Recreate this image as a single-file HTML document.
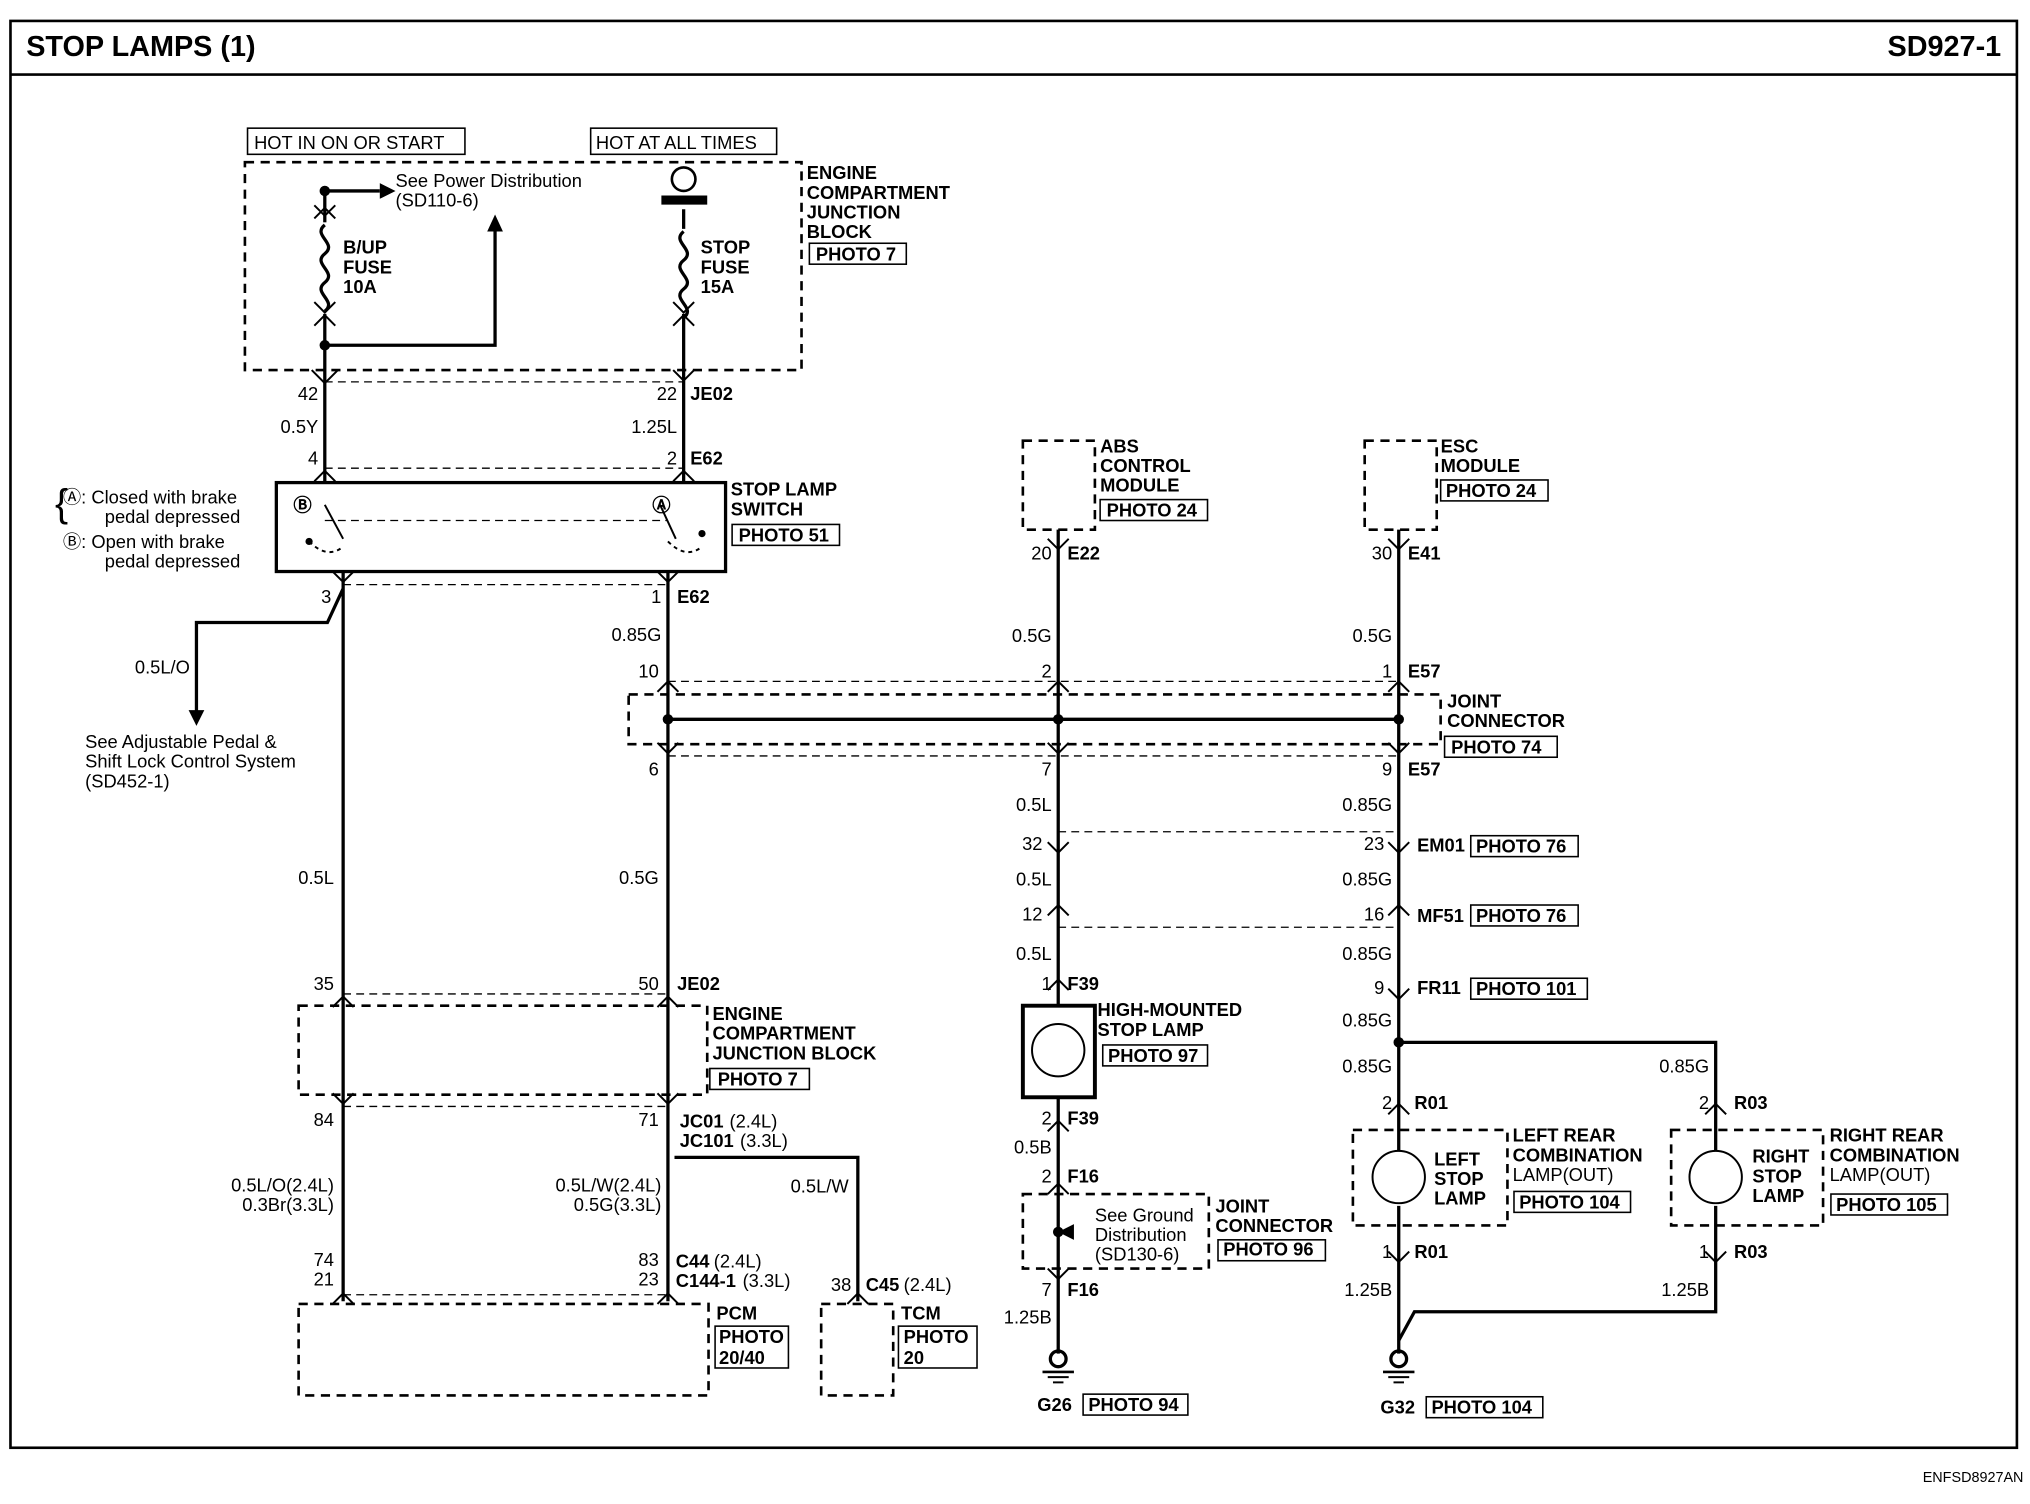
<!DOCTYPE html>
<html><head><meta charset="utf-8"><style>
html,body{margin:0;padding:0;background:#fff}
svg{display:block}
text{font-family:"Liberation Sans",Arial,sans-serif;fill:#000}
.b{font-weight:bold}
</style></head><body>
<svg width="2030" height="1504" viewBox="0 0 1550 1150" preserveAspectRatio="none" xmlns="http://www.w3.org/2000/svg">
<g fill="none" stroke="#000">
<rect x="8" y="16" width="1532" height="1091" stroke-width="2"/>
<line x1="8" y1="57" x2="1540" y2="57" stroke-width="2"/>
</g>
<text x="20" y="43" font-size="22" class="b">STOP LAMPS (1)</text>
<text x="1528" y="43" font-size="22" class="b" text-anchor="end">SD927-1</text>
<text x="1545" y="1133" font-size="11" text-anchor="end">ENFSD8927AN</text>

<!-- dashed boxes -->
<g fill="none" stroke="#000" stroke-width="2" stroke-dasharray="7,5">
<rect x="187" y="124" width="425" height="159"/>
<rect x="781" y="337" width="55" height="68"/>
<rect x="1042" y="337" width="55" height="68"/>
<rect x="480" y="531" width="620" height="38"/>
<rect x="228" y="769" width="312" height="68"/>
<rect x="228" y="997" width="313" height="70"/>
<rect x="627" y="997" width="55" height="70"/>
<rect x="781" y="913" width="142" height="57"/>
<rect x="1033" y="864" width="118" height="73"/>
<rect x="1276" y="864" width="116" height="73"/>
</g>
<g fill="none" stroke="#000" stroke-width="1" stroke-dasharray="6,4">
<line x1="248" y1="292" x2="522" y2="292"/>
<line x1="248" y1="358" x2="522" y2="358"/>
<line x1="262" y1="447" x2="510" y2="447"/>
<line x1="248" y1="398" x2="510" y2="398"/>
<line x1="510" y1="521" x2="1068" y2="521"/>
<line x1="510" y1="578" x2="1068" y2="578"/>
<line x1="808" y1="636" x2="1068" y2="636"/>
<line x1="808" y1="709" x2="1068" y2="709"/>
<line x1="262" y1="760" x2="510" y2="760"/>
<line x1="262" y1="846" x2="510" y2="846"/>
<line x1="262" y1="990" x2="510" y2="990"/>
</g>
<!-- label boxes -->
<g fill="none" stroke="#000" stroke-width="1.2">
<rect x="189" y="98" width="166" height="20"/>
<rect x="451" y="98" width="142" height="20"/>
<rect x="618" y="186" width="74" height="16"/>
<rect x="559" y="401" width="82" height="16"/>
<rect x="840" y="382" width="82" height="16"/>
<rect x="1100" y="367" width="82" height="16"/>
<rect x="1103" y="563" width="86" height="16"/>
<rect x="1123" y="639" width="82" height="16"/>
<rect x="1123" y="692" width="82" height="16"/>
<rect x="1123" y="748" width="89" height="16"/>
<rect x="542" y="817" width="76" height="16"/>
<rect x="842" y="799" width="80" height="16"/>
<rect x="930" y="948" width="82" height="16"/>
<rect x="1156" y="911" width="89" height="16"/>
<rect x="1398" y="913" width="89" height="16"/>
<rect x="546" y="1014" width="56" height="32"/>
<rect x="686" y="1014" width="60" height="32"/>
<rect x="827" y="1066" width="80" height="16"/>
<rect x="1089" y="1068" width="89" height="16"/>
</g>
<!-- wires -->
<g fill="none" stroke="#000" stroke-width="2.5">
<line x1="248" y1="143" x2="248" y2="170"/>
<line x1="248" y1="240" x2="248" y2="370"/>
<polyline points="248,264 378,264 378,175"/>
<line x1="248" y1="146" x2="290" y2="146"/>
<line x1="522" y1="160" x2="522" y2="175"/>
<line x1="522" y1="240" x2="522" y2="370"/>
<line x1="505" y1="153" x2="540" y2="153" stroke-width="7"/>
<line x1="262" y1="437" x2="262" y2="995"/>
<polyline points="262,450 250,476 150,476 150,545"/>
<line x1="510" y1="437" x2="510" y2="995"/>
<polyline points="515,885 655,885 655,995"/>
<line x1="808" y1="405" x2="808" y2="770"/>
<line x1="808" y1="838" x2="808" y2="1035"/>
<line x1="1068" y1="405" x2="1068" y2="880"/>
<line x1="1068" y1="922" x2="1068" y2="1035"/>
<line x1="510" y1="550" x2="1068" y2="550"/>
<polyline points="1068,797 1310,797 1310,880"/>
<polyline points="1310,922 1310,1003 1080,1003 1068,1025"/>
<rect x="211" y="369" width="343" height="68" stroke-width="2.5"/>
<rect x="781" y="769" width="55" height="70" stroke-width="3"/>
<path d="M248,172 c-10,8 10,14 0,22 c-10,8 10,14 0,22 c-10,8 10,14 0,22"/>
<path d="M522,177 c-10,8 10,14 0,22 c-10,8 10,14 0,22 c-10,8 10,14 0,22" />
</g>
<circle cx="522" cy="137" r="9" fill="none" stroke="#000" stroke-width="2"/>
<g fill="#000">
<circle cx="248" cy="146" r="4"/><circle cx="248" cy="264" r="4"/>
<circle cx="510" cy="550" r="4"/><circle cx="808" cy="550" r="4"/><circle cx="1068" cy="550" r="4"/>
<circle cx="1068" cy="797" r="4"/><circle cx="808" cy="942" r="4"/>
<polygon points="290,140 302,146 290,152"/>
<polygon points="372,177 378,164 384,177"/>
<polygon points="144,543 150,555 156,543"/>
<polygon points="820,936 808,942 820,948"/>
</g>
<!-- switch contacts -->
<g fill="none" stroke="#000" stroke-width="1.5">
<line x1="248" y1="386" x2="262" y2="412"/>
<line x1="504" y1="386" x2="516" y2="412"/>
<path d="M236,414 q14,14 26,4" stroke-dasharray="3,3"/>
<path d="M510,414 q14,14 26,4" stroke-dasharray="3,3"/>
<circle cx="236" cy="414" r="2" fill="#000"/><circle cx="536" cy="408" r="2" fill="#000"/>
<!-- lamps -->
<circle cx="808" cy="803" r="20"/><circle cx="1068" cy="900" r="20"/><circle cx="1310" cy="900" r="20"/>
<!-- grounds -->
<circle cx="808" cy="1039" r="6" stroke-width="2.5"/><circle cx="1068" cy="1039" r="6" stroke-width="2.5"/>
<line x1="796" y1="1049" x2="820" y2="1049" stroke-width="2"/><line x1="800" y1="1053" x2="816" y2="1053"/><line x1="804" y1="1057" x2="812" y2="1057"/>
<line x1="1056" y1="1049" x2="1080" y2="1049" stroke-width="2"/><line x1="1060" y1="1053" x2="1076" y2="1053"/><line x1="1064" y1="1057" x2="1072" y2="1057"/>
</g>
<!-- connector chevrons -->
<g fill="none" stroke="#000" stroke-width="1.5">
<path d="M240,157 l8,8 l8,-8 M240,167 l8,-8 l8,8"/>
<path d="M240,231 l8,8 l8,-8 M240,249 l8,-8 l8,8"/>
<path d="M514,231 l8,8 l8,-8 M514,249 l8,-8 l8,8"/>
<path d="M238,283 l10,10 l10,-10 M514,283 l8,8 l8,-8"/>
<path d="M240,368 l8,-8 l8,8 M514,368 l8,-8 l8,8"/>
<path d="M254,437 l8,8 l8,-8 M502,437 l8,8 l8,-8"/>
<path d="M800,412 l8,8 l8,-8 M1060,412 l8,8 l8,-8"/>
<path d="M502,529 l8,-8 l8,8 M800,529 l8,-8 l8,8 M1060,529 l8,-8 l8,8"/>
<path d="M502,568 l8,8 l8,-8 M800,568 l8,8 l8,-8 M1060,568 l8,8 l8,-8"/>
<path d="M800,644 l8,8 l8,-8 M1060,644 l8,8 l8,-8"/>
<path d="M800,700 l8,-8 l8,8 M1060,700 l8,-8 l8,8"/>
<path d="M1060,756 l8,8 l8,-8"/>
<path d="M254,770 l8,-8 l8,8 M502,770 l8,-8 l8,8"/>
<path d="M254,836 l8,8 l8,-8 M502,836 l8,8 l8,-8"/>
<path d="M254,997 l8,-8 l8,8 M502,997 l8,-8 l8,8 M647,997 l8,-8 l8,8"/>
<path d="M800,865 l8,-8 l8,8 M800,913 l8,-8 l8,8 M800,970 l8,8 l8,-8"/>
<path d="M1060,852 l8,-8 l8,8 M1302,852 l8,-8 l8,8 M1060,957 l8,8 l8,-8 M1302,957 l8,8 l8,-8"/>
<path d="M800,757 l8,-8 l8,8"/>
</g>
<!-- texts -->
<g font-size="14">
<text x="194" y="114">HOT IN ON OR START</text>
<text x="455" y="114">HOT AT ALL TIMES</text>
<text x="302" y="143">See Power Distribution</text>
<text x="302" y="158">(SD110-6)</text>
<text x="616" y="137" class="b">ENGINE</text><text x="616" y="152" class="b">COMPARTMENT</text><text x="616" y="167" class="b">JUNCTION</text><text x="616" y="182" class="b">BLOCK</text>
<text x="623" y="199" class="b">PHOTO 7</text>
<text x="262" y="194" class="b">B/UP</text><text x="262" y="209" class="b">FUSE</text><text x="262" y="224" class="b">10A</text>
<text x="535" y="194" class="b">STOP</text><text x="535" y="209" class="b">FUSE</text><text x="535" y="224" class="b">15A</text>
<text x="243" y="306" text-anchor="end">42</text><text x="243" y="331" text-anchor="end">0.5Y</text><text x="243" y="355" text-anchor="end">4</text>
<text x="517" y="306" text-anchor="end">22</text><text x="527" y="306" class="b">JE02</text>
<text x="517" y="331" text-anchor="end">1.25L</text>
<text x="517" y="355" text-anchor="end">2</text><text x="527" y="355" class="b">E62</text>
<text x="558" y="379" class="b">STOP LAMP</text><text x="558" y="394" class="b">SWITCH</text>
<text x="564" y="414" class="b">PHOTO 51</text>
<text x="224" y="391" class="b">Ⓑ</text><text x="498" y="391" class="b">Ⓐ</text>
<text x="48" y="385">Ⓐ: Closed with brake</text><text x="80" y="400">pedal depressed</text>
<text x="48" y="419">Ⓑ: Open with brake</text><text x="80" y="434">pedal depressed</text>
<text x="42" y="395" font-size="30">{</text>
<text x="253" y="461" text-anchor="end">3</text>
<text x="505" y="461" text-anchor="end">1</text><text x="517" y="461" class="b">E62</text>
<text x="145" y="515" text-anchor="end">0.5L/O</text>
<text x="65" y="572">See Adjustable Pedal &amp;</text><text x="65" y="587">Shift Lock Control System</text><text x="65" y="602">(SD452-1)</text>
<text x="505" y="490" text-anchor="end">0.85G</text>
<text x="840" y="346" class="b">ABS</text><text x="840" y="361" class="b">CONTROL</text><text x="840" y="376" class="b">MODULE</text><text x="845" y="395" class="b">PHOTO 24</text>
<text x="1100" y="346" class="b">ESC</text><text x="1100" y="361" class="b">MODULE</text><text x="1104" y="380" class="b">PHOTO 24</text>
<text x="803" y="428" text-anchor="end">20</text><text x="815" y="428" class="b">E22</text>
<text x="1063" y="428" text-anchor="end">30</text><text x="1075" y="428" class="b">E41</text>
<text x="803" y="491" text-anchor="end">0.5G</text><text x="1063" y="491" text-anchor="end">0.5G</text>
<text x="503" y="518" text-anchor="end">10</text><text x="803" y="518" text-anchor="end">2</text><text x="1063" y="518" text-anchor="end">1</text><text x="1075" y="518" class="b">E57</text>
<text x="1105" y="541" class="b">JOINT</text><text x="1105" y="556" class="b">CONNECTOR</text><text x="1108" y="576" class="b">PHOTO 74</text>
<text x="503" y="593" text-anchor="end">6</text><text x="803" y="593" text-anchor="end">7</text><text x="1063" y="593" text-anchor="end">9</text><text x="1075" y="593" class="b">E57</text>
<text x="803" y="620" text-anchor="end">0.5L</text><text x="1063" y="620" text-anchor="end">0.85G</text>
<text x="796" y="650" text-anchor="end">32</text><text x="1057" y="650" text-anchor="end">23</text><text x="1082" y="651" class="b">EM01</text><text x="1127" y="652" class="b">PHOTO 76</text>
<text x="803" y="677" text-anchor="end">0.5L</text><text x="1063" y="677" text-anchor="end">0.85G</text>
<text x="796" y="704" text-anchor="end">12</text><text x="1057" y="704" text-anchor="end">16</text><text x="1082" y="705" class="b">MF51</text><text x="1127" y="705" class="b">PHOTO 76</text>
<text x="803" y="734" text-anchor="end">0.5L</text><text x="1063" y="734" text-anchor="end">0.85G</text>
<text x="803" y="757" text-anchor="end">1</text><text x="815" y="757" class="b">F39</text>
<text x="1057" y="760" text-anchor="end">9</text><text x="1082" y="760" class="b">FR11</text><text x="1127" y="761" class="b">PHOTO 101</text>
<text x="1063" y="785" text-anchor="end">0.85G</text>
<text x="255" y="676" text-anchor="end">0.5L</text><text x="503" y="676" text-anchor="end">0.5G</text>
<text x="255" y="757" text-anchor="end">35</text><text x="503" y="757" text-anchor="end">50</text><text x="517" y="757" class="b">JE02</text>
<text x="544" y="780" class="b">ENGINE</text><text x="544" y="795" class="b">COMPARTMENT</text><text x="544" y="810" class="b">JUNCTION BLOCK</text><text x="548" y="830" class="b">PHOTO 7</text>
<text x="838" y="777" class="b">HIGH-MOUNTED</text><text x="838" y="792" class="b">STOP LAMP</text><text x="846" y="812" class="b">PHOTO 97</text>
<text x="255" y="861" text-anchor="end">84</text><text x="503" y="861" text-anchor="end">71</text>
<text x="519" y="862" class="b">JC01</text><text x="557" y="862">(2.4L)</text>
<text x="519" y="877" class="b">JC101</text><text x="565" y="877">(3.3L)</text>
<text x="803" y="860" text-anchor="end">2</text><text x="815" y="860" class="b">F39</text>
<text x="803" y="882" text-anchor="end">0.5B</text>
<text x="803" y="904" text-anchor="end">2</text><text x="815" y="904" class="b">F16</text>
<text x="1063" y="820" text-anchor="end">0.85G</text><text x="1305" y="820" text-anchor="end">0.85G</text>
<text x="1063" y="848" text-anchor="end">2</text><text x="1080" y="848" class="b">R01</text>
<text x="1305" y="848" text-anchor="end">2</text><text x="1324" y="848" class="b">R03</text>
<text x="1155" y="873" class="b">LEFT REAR</text><text x="1155" y="888" class="b">COMBINATION</text><text x="1155" y="903">LAMP(OUT)</text><text x="1160" y="924" class="b">PHOTO 104</text>
<text x="1397" y="873" class="b">RIGHT REAR</text><text x="1397" y="888" class="b">COMBINATION</text><text x="1397" y="903">LAMP(OUT)</text><text x="1402" y="926" class="b">PHOTO 105</text>
<text x="1095" y="891" class="b">LEFT</text><text x="1095" y="906" class="b">STOP</text><text x="1095" y="921" class="b">LAMP</text>
<text x="1338" y="889" class="b">RIGHT</text><text x="1338" y="904" class="b">STOP</text><text x="1338" y="919" class="b">LAMP</text>
<text x="255" y="911" text-anchor="end">0.5L/O(2.4L)</text><text x="255" y="926" text-anchor="end">0.3Br(3.3L)</text>
<text x="505" y="911" text-anchor="end">0.5L/W(2.4L)</text><text x="505" y="926" text-anchor="end">0.5G(3.3L)</text>
<text x="648" y="912" text-anchor="end">0.5L/W</text>
<text x="836" y="934">See Ground</text><text x="836" y="949">Distribution</text><text x="836" y="964">(SD130-6)</text>
<text x="928" y="927" class="b">JOINT</text><text x="928" y="942" class="b">CONNECTOR</text><text x="934" y="960" class="b">PHOTO 96</text>
<text x="255" y="968" text-anchor="end">74</text><text x="255" y="983" text-anchor="end">21</text>
<text x="503" y="968" text-anchor="end">83</text><text x="503" y="983" text-anchor="end">23</text>
<text x="516" y="969" class="b">C44</text><text x="545" y="969">(2.4L)</text>
<text x="516" y="984" class="b">C144-1</text><text x="567" y="984">(3.3L)</text>
<text x="650" y="987" text-anchor="end">38</text><text x="661" y="987" class="b">C45</text><text x="690" y="987">(2.4L)</text>
<text x="1063" y="962" text-anchor="end">1</text><text x="1080" y="962" class="b">R01</text>
<text x="1305" y="962" text-anchor="end">1</text><text x="1324" y="962" class="b">R03</text>
<text x="803" y="991" text-anchor="end">7</text><text x="815" y="991" class="b">F16</text>
<text x="803" y="1012" text-anchor="end">1.25B</text>
<text x="1063" y="991" text-anchor="end">1.25B</text><text x="1305" y="991" text-anchor="end">1.25B</text>
<text x="547" y="1009" class="b">PCM</text><text x="549" y="1027" class="b">PHOTO</text><text x="549" y="1043" class="b">20/40</text>
<text x="688" y="1009" class="b">TCM</text><text x="690" y="1027" class="b">PHOTO</text><text x="690" y="1043" class="b">20</text>
<text x="792" y="1079" class="b">G26</text><text x="831" y="1079" class="b">PHOTO 94</text>
<text x="1054" y="1081" class="b">G32</text><text x="1093" y="1081" class="b">PHOTO 104</text>
</g>
</svg>
</body></html>
